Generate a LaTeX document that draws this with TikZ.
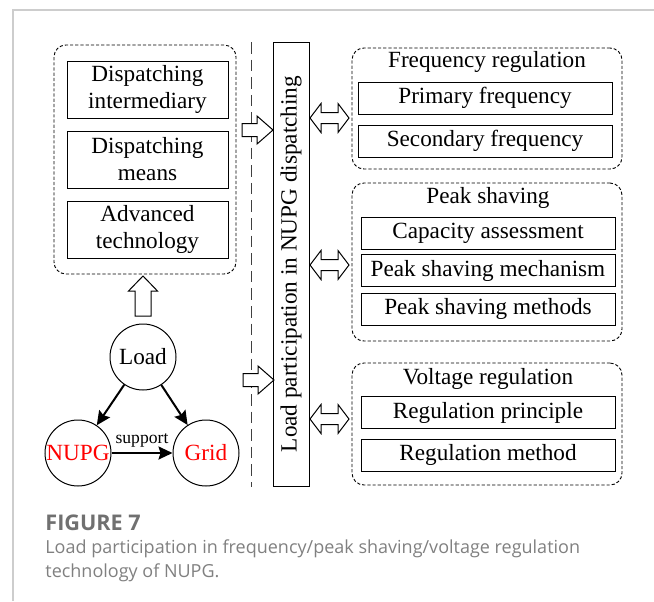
\documentclass[tikz,border=0pt]{standalone}
\usepackage{fontspec}
\setmainfont{Liberation Serif}
\newfontfamily\capfont{Open Sans}
\usetikzlibrary{arrows.meta}
\definecolor{framegray}{RGB}{205,205,205}
\definecolor{capgray}{RGB}{128,128,128}
\definecolor{figgray}{RGB}{112,112,112}
\tikzset{
  groupbox/.style={draw, dash pattern=on 1.6pt off 1pt, rounded corners=6pt, inner sep=0pt, line width=0.45pt},
  itembox/.style={draw, inner sep=0pt, line width=0.5pt, align=center, font=\fontsize{11.6}{13.5}\selectfont},
  grouptitle/.style={inner sep=0pt, font=\fontsize{11.6}{13.5}\selectfont},
  ring/.style={circle, draw, minimum size=33pt, inner sep=0pt, line width=0.5pt, font=\fontsize{11.6}{13.5}\selectfont},
  flow/.style={-{Stealth[length=7pt,width=6.5pt,inset=1pt]}, line width=1pt},
  % hollow block arrows, drawn in pixel units round their centre
  hollowright/.pic={\draw[line width=0.5pt, fill=white, line join=miter]
    (-15.5,-6.5) -- (-0.5,-6.5) -- (-0.5,-14) -- (15.5,0) -- (-0.5,14) -- (-0.5,6.5) -- (-15.5,6.5) -- cycle;},
  hollowboth/.pic={\draw[line width=0.5pt, fill=white, line join=miter]
    (-19.5,0) -- (-8.5,-14.5) -- (-8.5,-5.5) -- (8.5,-5.5) -- (8.5,-14.5) -- (19.5,0)
    -- (8.5,14.5) -- (8.5,5.5) -- (-8.5,5.5) -- (-8.5,14.5) -- cycle;}
}
\begin{document}
\begin{tikzpicture}[x=0.5pt, y=-0.5pt]
  \useasboundingbox (0,0) rectangle (654,601);
  % outer frame
  \draw[framegray, line width=0.6pt] (13,601) -- (13,10) -- (654,10);

  % left group
  \node[groupbox, minimum width=91pt, minimum height=114.5pt] (means) at (145,159.5) {};
  \node[itembox, minimum width=80.5pt, minimum height=28.5pt] (inter) at (147.5,89.5) {Dispatching\\intermediary};
  \node[itembox, minimum width=80.5pt, minimum height=28.5pt] (dmeans) at (147.5,159.5) {Dispatching\\means};
  \node[itembox, minimum width=80.5pt, minimum height=28.5pt] (tech) at (147.5,229.5) {Advanced\\technology};

  % load triangle
  \node[ring] (load) at (143,357) {Load};
  \node[ring, text=red] (nupg) at (78,453) {NUPG};
  \node[ring, text=red] (grid) at (206,453) {Grid};
  \draw[flow] (load) -- (nupg);
  \draw[flow] (load) -- (grid);
  \draw[flow] (nupg) -- node[above=-1pt, font=\fontsize{8.8}{10}\selectfont] {support} (grid);
  \draw[line width=0.5pt, line join=miter] (143,276) -- (157.5,291) -- (151,291) -- (151,316)
    -- (135,316) -- (135,291) -- (128.5,291) -- cycle;

  % dashed divider
  \draw[black!75, line width=0.5pt, dash pattern=on 5.8pt off 3pt] (251,42) -- (251,487);

  % central bar
  \node[draw, line width=0.5pt, rotate=90, minimum width=222pt, minimum height=18pt, inner sep=0pt,
        font=\fontsize{11.6}{13.5}\selectfont] (bus) at (291,264) {Load participation in NUPG dispatching};
  \pic at (257.5,130) {hollowright};
  \pic at (258.5,380) {hollowright};

  % frequency regulation
  \node[groupbox, minimum width=135pt, minimum height=60.5pt] (freq) at (487,108.5) {};
  \node[grouptitle] (freqt) at (487,62) {Frequency regulation};
  \node[itembox, minimum width=127pt, minimum height=16pt] (prim) at (485,98) {Primary frequency};
  \node[itembox, minimum width=127pt, minimum height=16pt] (sec) at (485,141) {Secondary frequency};
  \pic at (329.5,118) {hollowboth};

  % peak shaving
  \node[groupbox, minimum width=135pt, minimum height=79pt] (peak) at (487,262) {};
  \node[grouptitle] (peakt) at (488,197.5) {Peak shaving};
  \node[itembox, minimum width=127pt, minimum height=16pt] (cap) at (488,233) {Capacity assessment};
  \node[itembox, minimum width=127pt, minimum height=16pt] (mech) at (488,270.5) {Peak shaving mechanism};
  \node[itembox, minimum width=127pt, minimum height=16pt] (meth) at (488,309) {Peak shaving methods};
  \pic at (329.5,265) {hollowboth};

  % voltage regulation
  \node[groupbox, minimum width=135pt, minimum height=61pt] (volt) at (487,424) {};
  \node[grouptitle] (voltt) at (488,379) {Voltage regulation};
  \node[itembox, minimum width=127pt, minimum height=16pt] (prin) at (488,412.5) {Regulation principle};
  \node[itembox, minimum width=127pt, minimum height=16pt] (rmeth) at (488,455) {Regulation method};
  \pic at (329.5,419) {hollowboth};

  % caption
  \node[anchor=base west, inner sep=0pt, text=figgray, font=\capfont\bfseries\fontsize{10.8}{12}\selectfont] (fig) at (45,530) {FIGURE 7};
  \node[anchor=base west, inner sep=0pt, text=capgray, font=\capfont\fontsize{9}{12}\selectfont] (cap1) at (45,553) {Load participation in frequency/peak shaving/voltage regulation};
  \node[anchor=base west, inner sep=0pt, text=capgray, font=\capfont\fontsize{9}{12}\selectfont] (cap2) at (45,577) {technology of NUPG.};
\end{tikzpicture}
\end{document}
